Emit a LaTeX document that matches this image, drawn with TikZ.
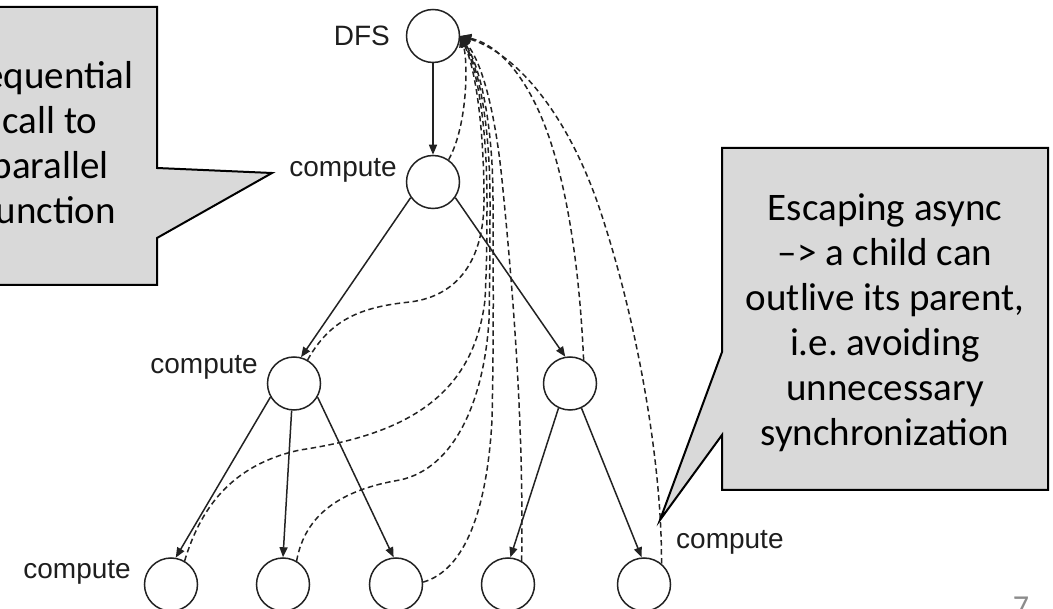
\documentclass[tikz,border=0pt]{standalone}
\usepackage{fontspec}
\setmainfont{Carlito}
\newfontfamily\diagfont{Liberation Sans}
\usetikzlibrary{arrows.meta}
\frenchspacing
\definecolor{linecol}{HTML}{222222}
\definecolor{textcol}{HTML}{1E1E1E}
\definecolor{bubblefill}{HTML}{D9D9D9}
\definecolor{pagecol}{HTML}{8C8C8C}
\begin{document}
\begin{tikzpicture}[x=1pt,y=-1pt,
  task/.style={circle, draw=linecol, line width=1.5pt, minimum size=53pt, inner sep=0pt},
  spawn/.style={draw=linecol, line width=1.5pt, -{Triangle[length=10pt,width=8pt]}},
  syncedge/.style={draw=linecol, line width=1.5pt, dash pattern=on 5.5pt off 3.5pt,
                   -{Triangle[length=11pt,width=9pt]}},
  lbl/.style={font=\diagfont\fontsize{28}{32}\selectfont, text=textcol, inner sep=0pt},
  bubble/.style={fill=bubblefill, draw=black, line width=2pt, line join=miter},
  bubbletext/.style={font=\fontsize{39}{45}\selectfont, inner sep=0pt, text=black, anchor=base}]

\useasboundingbox (0,0) rectangle (1053,609);
\begin{scope}
\clip (0,0) rectangle (1053,609);

% task tree
\node[task] (dfs) at (433,36)  {};
\node[task] (c1)  at (433,182) {};
\node[task] (l2a) at (294,383.5) {};
\node[task] (l2b) at (570,383.5) {};
\node[task] (b1)  at (171,584.5) {};
\node[task] (b2)  at (283,584.5) {};
\node[task] (b3)  at (396,584.5) {};
\node[task] (b4)  at (508,584.5) {};
\node[task] (b5)  at (644,584.5) {};

% labels
\node[lbl, anchor=east]     (ldfs) at (390,36)  {DFS};
\node[lbl, anchor=mid east] (lc1)  at (397,174) {compute};
\node[lbl, anchor=mid east] (ll2a) at (258,371) {compute};
\node[lbl, anchor=mid east] (lb1)  at (131,576) {compute};
\node[lbl, anchor=mid west] (lb5)  at (676,546) {compute};

% spawn edges
\draw[spawn] (dfs.south) -- (c1.north);
\draw[spawn] (c1.215) -- (l2a.75);
\draw[spawn] (c1.-35) -- (l2b.100);
\draw[spawn] (l2a.210) -- (b1.80);
\draw[spawn] (l2a.265) -- (b2.north);
\draw[spawn] (l2a.-30) -- (b3.95);
\draw[spawn] (l2b.245) -- (b4.85);
\draw[spawn] (l2b.-65) -- (b5.95);

% escaping joins back to the root
\draw[syncedge] (c1.55) .. controls (468,125) and (468,60) .. (dfs.east);
\draw[syncedge] (l2a.60) .. controls (330,320) and (360,307) .. (410,302)
   .. controls (458,296) and (484,260) .. (484,200)
   .. controls (484,130) and (476,70) .. (dfs.east);
\draw[syncedge] (b1.60) .. controls (200,510) and (230,465) .. (300,450)
   .. controls (400,435) and (473,400) .. (485,300)
   .. controls (487,260) and (487,230) .. (487,200)
   .. controls (487,130) and (478,70) .. (dfs.east);
\draw[syncedge] (b2.60) .. controls (305,515) and (340,490) .. (400,480)
   .. controls (455,468) and (484,400) .. (489,320)
   .. controls (490,270) and (490,230) .. (490,200)
   .. controls (490,130) and (480,70) .. (dfs.east);
\draw[syncedge] (b3.5) .. controls (465,570) and (487,510) .. (492,420)
   .. controls (494,330) and (493,260) .. (493,200)
   .. controls (493,130) and (482,70) .. (dfs.east);
\draw[syncedge] (b4.60) .. controls (524,420) and (512,280) .. (502,180)
   .. controls (496,120) and (484,65) .. (dfs.east);
\draw[syncedge] (l2b.60) .. controls (580,280) and (570,200) .. (550,140)
   .. controls (530,80) and (500,45) .. (dfs.east);
\draw[syncedge] (b5.50) .. controls (662,470) and (640,330) .. (600,210)
   .. controls (570,120) and (520,55) .. (dfs.east);

% left call-out
\coordinate (ltip) at (272,173);
\draw[bubble] (-60,7) -- (157,7) -- (157,168) -- (ltip) -- (157,238)
   -- (157,285) -- (-60,285) -- cycle;
\node[bubbletext] (ltext) at (50,89)
  {\begin{tabular}[t]{@{}c@{}}Sequential\\call to\\parallel\\function\end{tabular}};

% right call-out
\coordinate (rtip) at (660,520);
\draw[bubble] (722,148) -- (1048,148) -- (1048,490) -- (722,490) -- (722,435)
   -- (rtip) -- (722,352) -- cycle;
\node[bubbletext] (rtext) at (885,221)
  {\begin{tabular}[t]{@{}c@{}}Escaping async\\–> a child can\\outlive its parent,\\i.e. avoiding\\unnecessary\\synchronization\end{tabular}};

% page number
\node[font=\fontsize{32}{36}\selectfont, text=pagecol, anchor=north, inner sep=0pt] (pg) at (1021,597) {7};
\end{scope}
\end{tikzpicture}
\end{document}
